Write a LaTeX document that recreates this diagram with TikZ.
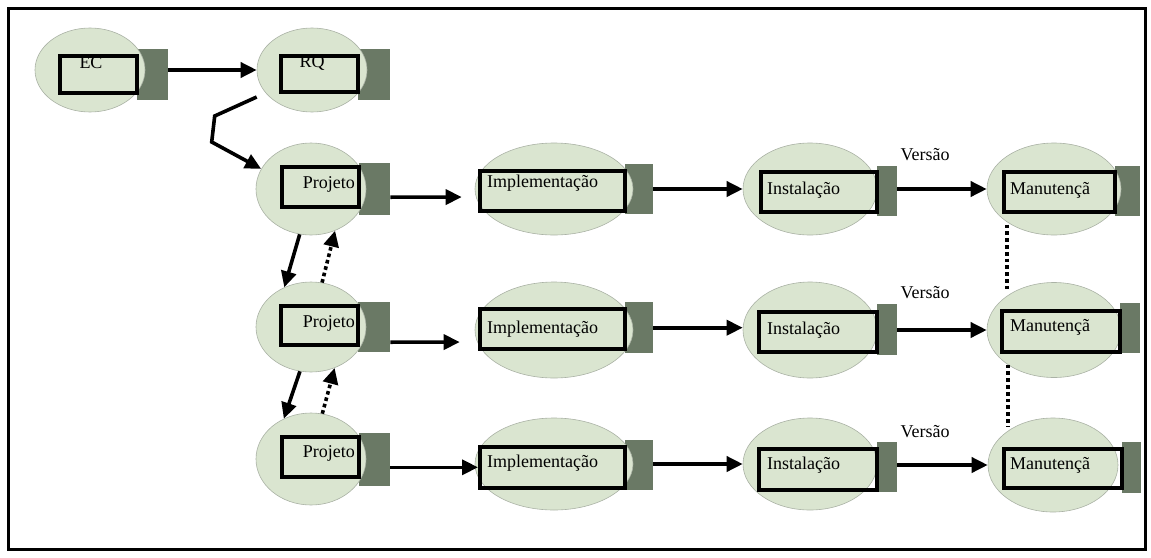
\documentclass[tikz,border=0pt]{standalone}
\usepackage{fontspec}
\setmainfont{Liberation Serif}
\usetikzlibrary{arrows.meta,shapes.geometric,calc}
\definecolor{blobfill}{RGB}{218,229,208}
\definecolor{blobline}{RGB}{170,178,165}
\definecolor{slab}{RGB}{106,121,101}
\tikzset{
  blob/.style={ellipse, draw=blobline, line width=0.6pt, fill=blobfill, inner sep=0pt},
  slabbox/.style={rectangle, fill=slab, inner sep=0pt, anchor=north west},
  stagebox/.style={rectangle, draw=black, line width=3.6pt, inner sep=0pt, anchor=north west},
  lbl/.style={inner sep=0pt, font=\fontsize{18}{20}\selectfont},
  flow/.style={line width=3.6pt, -{Triangle[length=16pt,width=15pt]}},
  back/.style={line width=3.6pt, dash pattern=on 3.6pt off 3pt, -{Triangle[length=16pt,width=15pt]}},
  link/.style={line width=3.8pt, dash pattern=on 3.8pt off 3pt},
}
\begin{document}
\begin{tikzpicture}[x=1pt,y=-1pt]
\useasboundingbox (0,0) rectangle (1151,557);
\draw[line width=3pt] (8.5,8.5) rectangle (1145.5,549.5);

% ---- EC ----
\node[slabbox, minimum width=31pt, minimum height=51pt] (ecs) at (137,49) {};
\node[blob, minimum width=110pt, minimum height=84pt] (ec) at (90,70) {};
\node[stagebox, minimum width=77pt, minimum height=37pt] (ecb) at (58,54) {};
\node[lbl] (ect) at (91,63) {EC};
% ---- RQ ----
\node[slabbox, minimum width=32pt, minimum height=51pt] (rqs) at (358,49) {};
\node[blob, minimum width=110pt, minimum height=84pt] (rq) at (312,70) {};
\node[stagebox, minimum width=77pt, minimum height=36pt] (rqb) at (279,54) {};
\node[lbl] (rqt) at (312,63) {RQ};

% ---- Projeto ----
\node[slabbox, minimum width=31pt, minimum height=52pt] (p1s) at (359,163) {};
\node[blob, minimum width=110pt, minimum height=92pt] (p1) at (311,189) {};
\node[stagebox, minimum width=77pt, minimum height=40pt] (p1b) at (280,165) {};
\node[lbl, anchor=east] (p1t) at (355,184) {Projeto};

\node[slabbox, minimum width=32pt, minimum height=50pt] (p2s) at (358,302) {};
\node[blob, minimum width=110pt, minimum height=90pt] (p2) at (311,327) {};
\node[stagebox, minimum width=77pt, minimum height=39pt] (p2b) at (279,304) {};
\node[lbl, anchor=east] (p2t) at (355,323) {Projeto};

\node[slabbox, minimum width=31pt, minimum height=53pt] (p3s) at (359,433) {};
\node[blob, minimum width=110pt, minimum height=92pt] (p3) at (311,459) {};
\node[stagebox, minimum width=77pt, minimum height=40pt] (p3b) at (280,435) {};
\node[lbl, anchor=east] (p3t) at (355,453) {Projeto};

% ---- Implementação ----
\node[slabbox, minimum width=28pt, minimum height=50pt] (i1s) at (625,164) {};
\node[blob, minimum width=158pt, minimum height=92pt] (i1) at (554,189) {};
\node[stagebox, minimum width=145pt, minimum height=40pt] (i1b) at (478,169) {};
\node[lbl, anchor=west] (i1t) at (487,183) {Implementação};

\node[slabbox, minimum width=28pt, minimum height=51pt] (i2s) at (625,302) {};
\node[blob, minimum width=158pt, minimum height=96pt] (i2) at (554,330) {};
\node[stagebox, minimum width=145pt, minimum height=40pt] (i2b) at (478,307) {};
\node[lbl, anchor=west] (i2t) at (487,329) {Implementação};

\node[slabbox, minimum width=28pt, minimum height=50pt] (i3s) at (625,440) {};
\node[blob, minimum width=158pt, minimum height=92pt] (i3) at (554,464) {};
\node[stagebox, minimum width=145pt, minimum height=41pt] (i3b) at (478,445) {};
\node[lbl, anchor=west] (i3t) at (487,463) {Implementação};

% ---- Instalação ----
\node[slabbox, minimum width=20pt, minimum height=50pt] (s1s) at (877,166) {};
\node[blob, minimum width=134pt, minimum height=92pt] (s1) at (810,189) {};
\node[stagebox, minimum width=116pt, minimum height=40pt] (s1b) at (759,170) {};
\node[lbl, anchor=west] (s1t) at (767,190) {Instalação};

\node[slabbox, minimum width=20pt, minimum height=51pt] (s2s) at (877,304) {};
\node[blob, minimum width=134pt, minimum height=96pt] (s2) at (810,330) {};
\node[stagebox, minimum width=118pt, minimum height=40pt] (s2b) at (757,310) {};
\node[lbl, anchor=west] (s2t) at (767,330) {Instalação};

\node[slabbox, minimum width=20pt, minimum height=50pt] (s3s) at (877,442) {};
\node[blob, minimum width=134pt, minimum height=92pt] (s3) at (810,464) {};
\node[stagebox, minimum width=118pt, minimum height=41pt] (s3b) at (757,447) {};
\node[lbl, anchor=west] (s3t) at (767,465) {Instalação};

% ---- Manutenção ----
\node[slabbox, minimum width=25pt, minimum height=50pt] (m1s) at (1115,166) {};
\node[blob, minimum width=134pt, minimum height=92pt] (m1) at (1054,189) {};
\node[stagebox, minimum width=111pt, minimum height=40pt] (m1b) at (1002,170) {};
\node[lbl, anchor=west] (m1t) at (1010,190) {Manutençã};

\node[slabbox, minimum width=20pt, minimum height=50pt] (m2s) at (1120,303) {};
\node[blob, minimum width=134pt, minimum height=95pt] (m2) at (1054,330) {};
\node[stagebox, minimum width=118pt, minimum height=41pt] (m2b) at (1000,309) {};
\node[lbl, anchor=west] (m2t) at (1010,327) {Manutençã};

\node[slabbox, minimum width=19pt, minimum height=51pt] (m3s) at (1122,442) {};
\node[blob, minimum width=130pt, minimum height=94pt] (m3) at (1053,465) {};
\node[stagebox, minimum width=118pt, minimum height=39pt] (m3b) at (1002,447) {};
\node[lbl, anchor=west] (m3t) at (1010,465) {Manutençã};

% ---- version labels ----
\node[lbl] (v1) at (925,155) {Versão};
\node[lbl] (v2) at (925,293) {Versão};
\node[lbl] (v3) at (925,432) {Versão};

% ---- connectors ----
\draw[flow] (ecs.east |- ec.center) -- (rq.west);
\draw[flow] ([yshift=-27pt]rq.west) -- ++(-42,19) -- ++(-3,26) -- (p1.158);

\draw[flow] (p1.256) -- (p2.124);
\draw[back] (p2.76) -- (p1.300);
\draw[flow] (p2.256) -- (p3.124);
\draw[back] (p3.76) -- (p2.300);

\draw[flow, shorten >=13pt] ([yshift=-8pt]p1s.east) -- ([yshift=-8pt]i1.west);
\draw[flow, shorten >=15pt] ([yshift=-15pt]p2s.east) -- ([yshift=-12pt]i2.west);
\draw[flow] (p3s.east |- i3b.west) -- (i3b.west);

\draw[flow] (i1s.east |- s1.west) -- (s1.west);
\draw[flow] (i2s.east) -- (s2.west |- i2s.east);
\draw[flow] (i3s.east |- s3.west) -- (s3.west);

\draw[flow] (s1s.east |- m1.west) -- (m1.west);
\draw[flow] (s2s.east |- m2.west) -- (m2.west);
\draw[flow] (s3s.east |- m3.west) -- (m3.west);

\draw[link] ([xshift=5pt,yshift=-11pt]m1b.south west) coordinate (d1)
  -- ($(d1 |- m2.north)+(0,7)$);
\draw[link] ([xshift=8pt,yshift=-11pt]m2b.south west) coordinate (d2)
  -- ($(d2 |- m3.north)+(0,9)$);
\end{tikzpicture}
\end{document}
